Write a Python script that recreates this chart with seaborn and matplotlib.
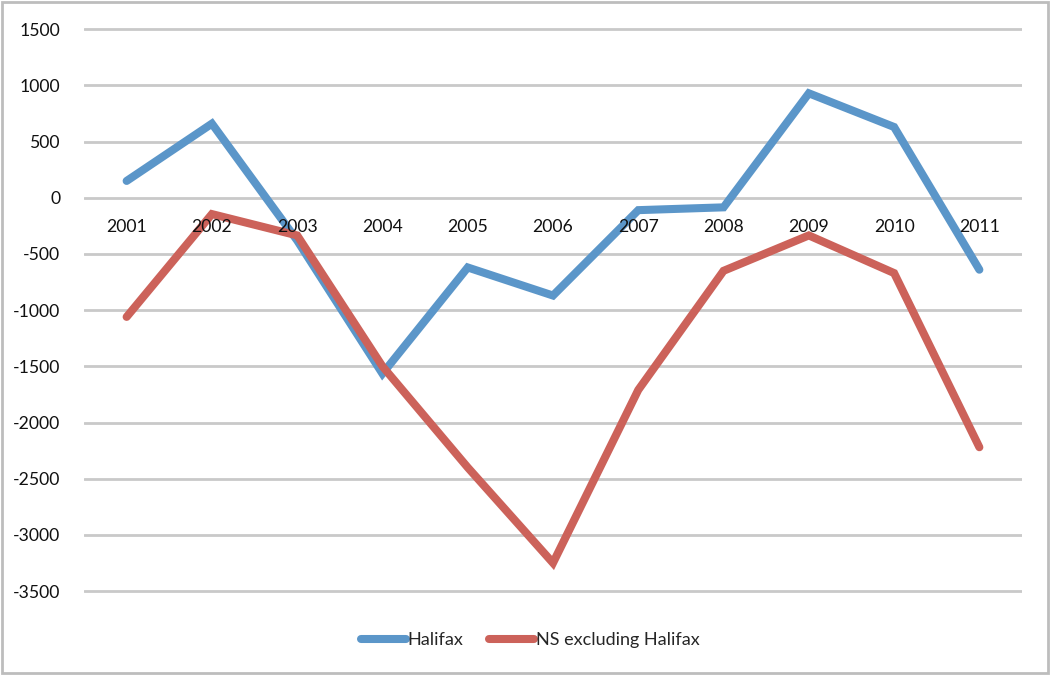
import matplotlib
matplotlib.use("Agg")
import matplotlib.pyplot as plt
from matplotlib.patches import Rectangle
import seaborn as sns
import pandas as pd

# Net migration by year
years = [2001, 2002, 2003, 2004, 2005, 2006, 2007, 2008, 2009, 2010, 2011]
halifax = [150, 660, -380, -1565, -620, -870, -110, -85, 930, 630, -640]
ns_excluding_halifax = [-1060, -145, -335, -1500, -2400, -3250, -1710, -650, -335, -670, -2220]
series_names = ["Halifax", "NS excluding Halifax"]
y_ticks = [1500, 1000, 500, 0, -500, -1000, -1500, -2000, -2500, -3000, -3500]

df = pd.DataFrame({
    "year": years * 2,
    "value": halifax + ns_excluding_halifax,
    "series": [series_names[0]] * len(years) + [series_names[1]] * len(years),
})

sns.set_theme(style="white")
plt.rcParams["font.family"] = ["Lato", "DejaVu Sans"]

FS = 12.7

fig = plt.figure(figsize=(10.5, 6.75), dpi=100)
ax = fig.add_axes([84 / 1050, 1 - 593.3 / 675, (1022 - 84) / 1050, (593.3 - 27.0) / 675])

palette = {series_names[0]: "#5B96C9", series_names[1]: "#CC625A"}
sns.lineplot(data=df, x="year", y="value", hue="series", palette=palette,
             linewidth=5.8, ax=ax, legend=False, sort=False,
             solid_capstyle="round", solid_joinstyle="miter")
for line in ax.lines:
    line.set_zorder(1.5)

ax.set_xlim(years[0] - 0.5, years[-1] + 0.5)
ax.set_ylim(-3520, 1520)
ax.set_yticks(y_ticks)
ax.set_yticklabels([str(t) for t in y_ticks])
ax.set_xticks(years)
ax.set_xticklabels([str(y) for y in years])
ax.set_xlabel("")
ax.set_ylabel("")

# horizontal gridlines behind the data
for t in y_ticks:
    ax.axhline(t, color="#C9C9C9", linewidth=2.0, zorder=0)

for s in ax.spines.values():
    s.set_visible(False)

# category labels sit just under the zero line, drawn above the series
ax.spines["bottom"].set_position(("data", 0))
ax.xaxis.set_zorder(5)
ax.tick_params(axis="x", length=0, pad=15, labelsize=FS, colors="#111111")
ax.tick_params(axis="y", length=0, pad=17, labelsize=FS, colors="#111111")

handles = [plt.Line2D([], [], color=palette[n], linewidth=5.8, solid_capstyle="round")
           for n in series_names]
fig.legend(handles, series_names, loc="center", bbox_to_anchor=(530 / 1050, 1 - 640 / 675),
           ncol=2, frameon=False, fontsize=13, handlelength=2.5, handletextpad=0.1,
           columnspacing=1.4)

# outer chart frame
fig.patches.append(Rectangle((2 / 1050, 2 / 675), 1046 / 1050, 671 / 675,
                             transform=fig.transFigure, fill=False,
                             edgecolor="#BDBDBD", linewidth=2.0))

fig.savefig("out.png", dpi=100, facecolor="white")
